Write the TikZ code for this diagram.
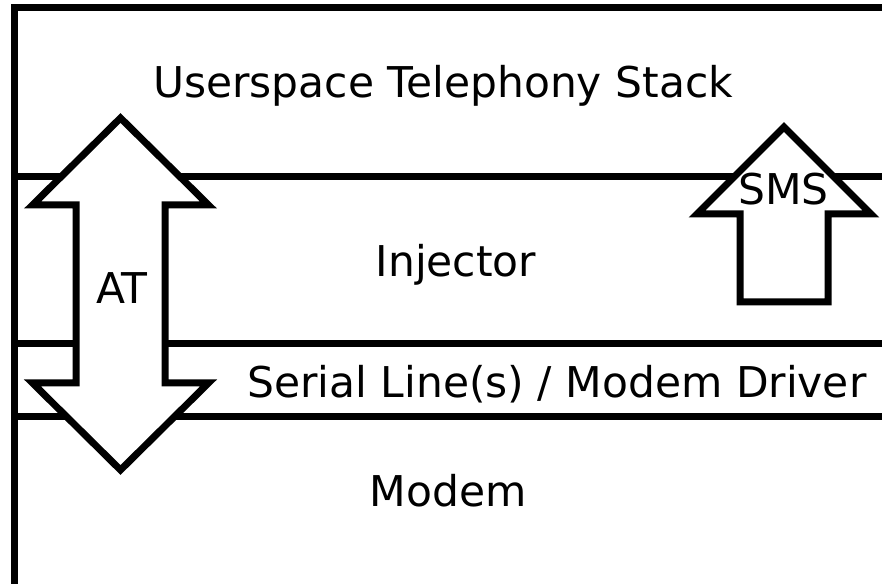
\documentclass[tikz,border=0pt]{standalone}
\usepackage{fontspec}
\setmainfont{DejaVu Sans}
\begin{document}
\begin{tikzpicture}[x=0.75pt,y=-0.75pt,
  outline/.style={draw=black,line width=5.25pt,line join=miter},
  arrowshape/.style={outline,fill=white},
  layertext/.style={font=\fontsize{31.8}{38}\selectfont,anchor=base,inner sep=0pt}]
\useasboundingbox (0,0) rectangle (882,584);
\clip (0,0) rectangle (882,584);

% stack frame and the two middle layers
\draw[outline] (14.5,8) rectangle (889,587);
\draw[outline] (14.5,177) rectangle (889,344);
\draw[outline] (14.5,344) rectangle (889,417);

% AT commands: double arrow through injector and serial layers
\draw[arrowshape] (120.5,118) -- (208.5,205) -- (165,205) -- (165,383)
  -- (208.5,383) -- (120.5,470) -- (32.5,383) -- (76,383) -- (76,205)
  -- (32.5,205) -- cycle;

% SMS: upward arrow from the injector
\draw[arrowshape] (784,127) -- (871,214) -- (828,214) -- (828,302)
  -- (740,302) -- (740,214) -- (697,214) -- cycle;

% labels
\node[layertext] (userspace) at (443,98) {Userspace Telephony Stack};
\node[layertext] (injector) at (456,277) {Injector};
\node[layertext] (serial) at (557,398) {Serial Line(s) / Modem Driver};
\node[layertext] (modem) at (448,507) {Modem};
\node[layertext] (at) at (122,304) {AT};
\node[layertext] (sms) at (783.5,205) {SMS};
\end{tikzpicture}
\end{document}
